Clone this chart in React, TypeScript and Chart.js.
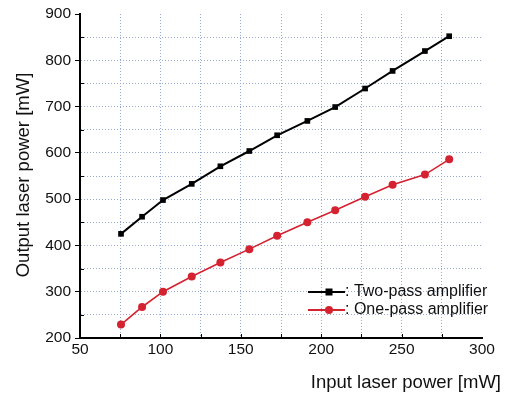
import React, { useEffect, useRef } from "react";
import { Chart, registerables } from "chart.js";

Chart.register(...registerables);

const inputPower = [75.5, 88.6, 101.6, 119.5, 137.3, 155.3, 172.6, 191.4, 208.7, 227.3, 244.4, 264.5, 279.6];
const twoPass = [425, 462, 498, 533, 571, 604, 638, 669, 699, 739, 777, 820, 852];
const onePass = [229, 267, 300, 333, 363, 392, 421, 450, 476, 505, 531, 553, 586];
const seriesNames = ["Two-pass amplifier", "One-pass amplifier"];
const xTitle = "Input laser power [mW]";
const yTitle = "Output laser power [mW]";

const FONT = "'Liberation Sans', Arial, sans-serif";
const GRID = "#98a9d4";

const decorPlugin = {
  id: "decor",
  afterDraw(chart: any) {
    const ctx = chart.ctx;
    const xs = chart.scales.x;
    const ys = chart.scales.y;
    const area = chart.chartArea;
    ctx.save();
    // inward ticks
    ctx.strokeStyle = "#000";
    ctx.lineWidth = 1;
    for (let v = 75; v < 300; v += 25) {
      const px = Math.round(xs.getPixelForValue(v)) + 0.5;
      ctx.beginPath();
      ctx.moveTo(px, area.bottom);
      ctx.lineTo(px, area.bottom - 4);
      ctx.stroke();
    }
    for (let v = 250; v < 900; v += 100) {
      const py = Math.round(ys.getPixelForValue(v)) + 0.5;
      ctx.beginPath();
      ctx.moveTo(area.left, py);
      ctx.lineTo(area.left + 4, py);
      ctx.stroke();
    }
    // axis titles
    ctx.fillStyle = "#111";
    ctx.font = `18.5px ${FONT}`;
    ctx.textAlign = "right";
    ctx.textBaseline = "middle";
    ctx.fillText(xTitle, 501, 383);
    ctx.save();
    ctx.translate(24, 175);
    ctx.rotate(-Math.PI / 2);
    ctx.textAlign = "center";
    ctx.fillText(yTitle, 0, 0);
    ctx.restore();
    // legend
    const rows = [
      { y: 292, color: "#000", style: "rect", name: seriesNames[0] },
      { y: 310, color: "#d42230", style: "circle", name: seriesNames[1] },
    ];
    ctx.font = `16px ${FONT}`;
    ctx.textAlign = "left";
    for (const r of rows) {
      ctx.strokeStyle = r.color;
      ctx.fillStyle = r.color;
      ctx.lineWidth = 2;
      ctx.beginPath();
      ctx.moveTo(308, r.y);
      ctx.lineTo(345, r.y);
      ctx.stroke();
      if (r.style === "rect") {
        ctx.fillRect(325.5, r.y - 3.5, 7, 7);
      } else {
        ctx.beginPath();
        ctx.arc(329, r.y, 4, 0, Math.PI * 2);
        ctx.fill();
      }
      ctx.fillStyle = "#111";
      ctx.fillText(": " + r.name, 345, r.y);
    }
    ctx.restore();
  },
};

export default function App() {
  const ref = useRef<HTMLCanvasElement>(null);
  useEffect(() => {
    document.body.style.margin = "0";
    const chart = new Chart(ref.current!, {
      type: "line",
      data: {
        datasets: [
          {
            label: seriesNames[0],
            data: inputPower.map((x, i) => ({ x, y: twoPass[i] })),
            borderColor: "#000",
            backgroundColor: "#000",
            borderWidth: 2,
            pointStyle: "rect",
            pointRadius: 4,
            pointBorderWidth: 0,
          },
          {
            label: seriesNames[1],
            data: inputPower.map((x, i) => ({ x, y: onePass[i] })),
            borderColor: "#d42230",
            backgroundColor: "#d42230",
            borderWidth: 1.6,
            pointStyle: "circle",
            pointRadius: 4,
            pointBorderWidth: 0,
          },
        ],
      },
      options: {
        responsive: false,
        animation: false,
        layout: { padding: { top: 14, right: 23, left: 0, bottom: 0 } },
        plugins: { legend: { display: false }, tooltip: { enabled: false } },
        scales: {
          x: {
            type: "linear",
            min: 50,
            max: 300,
            afterFit: (s: any) => { s.height = 56; },
            ticks: {
              stepSize: 25,
              autoSkip: false,
              maxRotation: 0,
              padding: 2,
              color: "#111",
              font: { family: FONT, size: 15.5 },
              callback: (v: any) => (Number(v) % 50 === 0 ? String(v) : ""),
            },
            grid: {
              color: (c: any) => (c.tick && (c.tick.value === 50 || c.tick.value === 300) ? "rgba(0,0,0,0)" : GRID),
              lineWidth: 1,
              drawTicks: false,
            },
            border: { display: true, color: "#000", width: 2, dash: [1, 2] },
          },
          y: {
            type: "linear",
            min: 200,
            max: 900,
            afterFit: (s: any) => { s.width = 80; },
            ticks: {
              stepSize: 50,
              autoSkip: false,
              padding: 4,
              color: "#111",
              font: { family: FONT, size: 15.5 },
              callback: (v: any) => (Number(v) % 100 === 0 ? String(v) : ""),
            },
            grid: {
              color: (c: any) => (c.tick && (c.tick.value === 200 || c.tick.value === 900) ? "rgba(0,0,0,0)" : GRID),
              lineWidth: 1,
              drawTicks: true,
              tickLength: 5,
              tickWidth: 1,
              tickColor: (c: any) => (c.tick && c.tick.value % 100 === 0 ? "#000" : "rgba(0,0,0,0)"),
            },
            border: { display: true, color: "#000", width: 2, dash: [1, 2] },
          },
        },
      },
      plugins: [decorPlugin],
    });
    return () => chart.destroy();
  }, []);
  return (
    <div style={{ width: 505, height: 394, background: "#fff" }}>
      <canvas ref={ref} width={505} height={394} />
    </div>
  );
}
